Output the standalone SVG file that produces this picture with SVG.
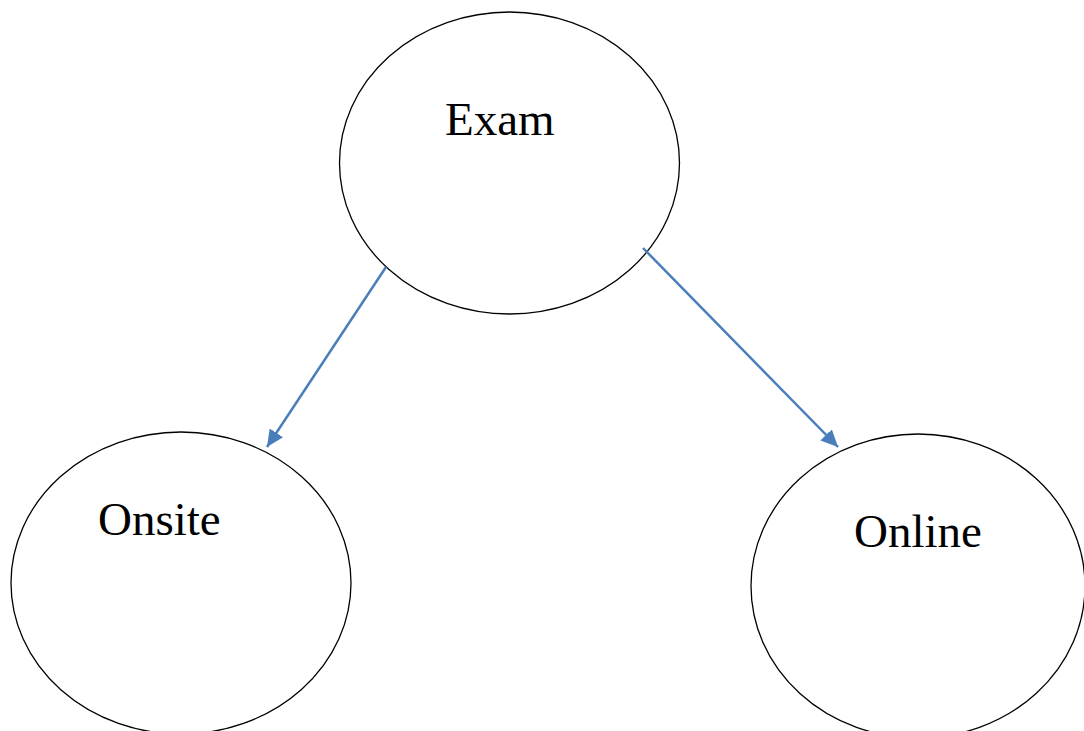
<svg xmlns="http://www.w3.org/2000/svg" width="1084" height="731" viewBox="0 0 1084 731">
<style>
.node{fill:#fff;stroke:#000;stroke-width:1.3}
.lbl{font-family:"Liberation Serif","Times New Roman",serif;font-size:47px;fill:#000}
.edge{stroke:#4A7EBB;stroke-width:2.5;fill:none}
</style>
<defs>
<marker id="arr" markerUnits="userSpaceOnUse" markerWidth="18" markerHeight="16" refX="17" refY="8" orient="auto">
<path d="M0,0 L17,8 L0,16 Z" fill="#4A7EBB"/>
</marker>
</defs>
<rect width="1084" height="731" fill="#fff"/>
<g id="exam"><ellipse class="node" cx="509.5" cy="163" rx="170" ry="151"/><text class="lbl" x="445" y="135">Exam</text></g>
<g id="onsite"><ellipse class="node" cx="181" cy="583" rx="170" ry="151"/><text class="lbl" x="98" y="535">Onsite</text></g>
<g id="online"><ellipse class="node" cx="918" cy="586" rx="167" ry="152"/><text class="lbl" x="854" y="547">Online</text></g>
<g id="connectors">
<line class="edge" x1="386" y1="267" x2="267" y2="447" marker-end="url(#arr)"/>
<line class="edge" x1="643" y1="248" x2="838" y2="447" marker-end="url(#arr)"/>
</g>
</svg>
